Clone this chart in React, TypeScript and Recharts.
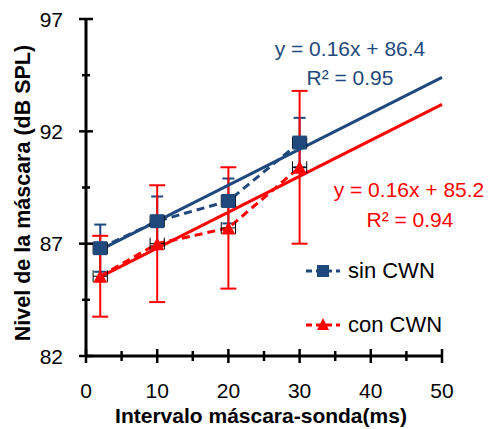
import React from 'react';
import { ComposedChart, Line, Scatter, XAxis, YAxis, ErrorBar, Legend, Label } from 'recharts';

const FONT = '"Liberation Sans", Arial, sans-serif';
const BLUE = '#1F497D';
const RED = '#FF0000';

// masker-probe interval (ms) and horizontal error
const intervals = [2, 10, 20, 30];
const intervalErr = [1, 1, 1, 1];

// masker level (dB SPL)
const sinCWN = [86.8, 88.0, 88.9, 91.5];
const sinErr = [1.05, 1.1, 1.0, 1.1];
const conCWN = [85.55, 87.0, 87.7, 90.4];
const conErr = [1.8, 2.6, 2.7, 3.4];

// linear trend end points
const trendX = [2, 50];
const sinTrend = [86.72, 94.4];
const conTrend = [85.52, 93.2];

const xTicks = [0, 5, 10, 15, 20, 25, 30, 35, 40, 45, 50];
const xLabelTicks = [0, 10, 20, 30, 40, 50];
const yTicks = [82, 84.5, 87, 89.5, 92, 94.5, 97];
const yLabelTicks = [82, 87, 92, 97];

const sinRows = intervals.map((x, i) => ({ x, y: sinCWN[i], err: sinErr[i], xErr: intervalErr[i] }));
const conRows = intervals.map((x, i) => ({ x, y: conCWN[i], err: conErr[i], xErr: intervalErr[i] }));
const sinTrendRows = trendX.map((x, i) => ({ x, y: sinTrend[i] }));
const conTrendRows = trendX.map((x, i) => ({ x, y: conTrend[i] }));

function YTick(props: any) {
  const { x, y, payload } = props;
  const major = yLabelTicks.includes(payload.value);
  const h = major ? 7 : 4;
  return (
    <g>
      <line x1={x - h} x2={x + h} y1={y} y2={y} stroke="#000" strokeWidth={2.5} />
      {major && (
        <text x={x - 23} y={y + 7.5} textAnchor="end" fontSize={21} fill="#000" fontFamily={FONT}>
          {payload.value}
        </text>
      )}
    </g>
  );
}

function XTick(props: any) {
  const { x, y, payload } = props;
  const major = xLabelTicks.includes(payload.value);
  const h = major ? 7 : 5;
  return (
    <g>
      <line x1={x} x2={x} y1={y - h} y2={y + h} stroke="#000" strokeWidth={2.5} />
      {major && (
        <text x={x} y={y + 42} textAnchor="middle" fontSize={21} fill="#000" fontFamily={FONT}>
          {payload.value}
        </text>
      )}
    </g>
  );
}

const Square = (p: any) => <rect x={p.cx - 7} y={p.cy - 7} width={14} height={14} fill={BLUE} />;
const Triangle = (p: any) => (
  <polygon points={`${p.cx},${p.cy - 6.5} ${p.cx + 7},${p.cy + 6.5} ${p.cx - 7},${p.cy + 6.5}`} fill={RED} />
);
const NoShape = () => <g />;

function LegendIcon({ color, marker }: { color: string; marker: 'square' | 'triangle' }) {
  return (
    <svg width={36} height={20} style={{ display: 'block' }}>
      <line x1={1} x2={35} y1={10} y2={10} stroke={color} strokeWidth={3} strokeDasharray="6 4" />
      {marker === 'square' ? (
        <rect x={12} y={4} width={12} height={12} fill={color} />
      ) : (
        <polygon points="18,3 24,15 12,15" fill={color} />
      )}
    </svg>
  );
}

function LegendBox() {
  const items = [
    { label: 'sin CWN', color: BLUE, marker: 'square' as const },
    { label: 'con CWN', color: RED, marker: 'triangle' as const },
  ];
  return (
    <div style={{ fontFamily: FONT, fontSize: 22, color: '#000' }}>
      {items.map((it, i) => (
        <div key={it.label} style={{ display: 'flex', alignItems: 'center', height: 26, marginTop: i ? 28 : 0 }}>
          <LegendIcon color={it.color} marker={it.marker} />
          <span style={{ marginLeft: 7 }}>{it.label}</span>
        </div>
      ))}
    </div>
  );
}

export default function App() {
  return (
    <div style={{ position: 'absolute', left: 0, top: 0, background: '#fff' }}>
      <ComposedChart width={488} height={429} margin={{ top: 19, right: 46, bottom: 0, left: 0 }} style={{ fontFamily: FONT }}>
        <XAxis
          type="number"
          dataKey="x"
          domain={[0, 50]}
          ticks={xTicks}
          interval={0}
          height={73}
          tickSize={0}
          tickMargin={0}
          tickLine={false}
          tick={<XTick />}
          axisLine={{ stroke: '#000', strokeWidth: 3 }}
        >
          <Label
            content={() => (
              <text x={261} y={423} textAnchor="middle" fontSize={21} fontWeight="bold" fill="#000" fontFamily={FONT}>
                Intervalo máscara-sonda(ms)
              </text>
            )}
          />
        </XAxis>
        <YAxis
          type="number"
          dataKey="y"
          domain={[82, 97]}
          ticks={yTicks}
          interval={0}
          width={86}
          tickSize={0}
          tickMargin={0}
          tickLine={false}
          tick={<YTick />}
          axisLine={{ stroke: '#000', strokeWidth: 3 }}
        >
          <Label
            content={() => (
              <text
                x={30}
                y={193}
                transform="rotate(-90, 30, 193)"
                textAnchor="middle"
                fontSize={21.5}
                fontWeight="bold"
                fill="#000"
                fontFamily={FONT}
              >
                Nivel de la máscara (dB SPL)
              </text>
            )}
          />
        </YAxis>

        <Scatter data={sinRows} dataKey="y" shape={NoShape} isAnimationActive={false} legendType="none">
          <ErrorBar dataKey="err" direction="y" stroke={BLUE} strokeWidth={2} width={6} />
        </Scatter>
        <Scatter data={conRows} dataKey="y" shape={NoShape} isAnimationActive={false} legendType="none">
          <ErrorBar dataKey="err" direction="y" stroke={RED} strokeWidth={2} width={8} />
        </Scatter>

        <Line data={sinTrendRows} dataKey="y" stroke={BLUE} strokeWidth={3} dot={false} isAnimationActive={false} legendType="none" />
        <Line data={conTrendRows} dataKey="y" stroke={RED} strokeWidth={3} dot={false} isAnimationActive={false} legendType="none" />
        <Line data={sinRows} dataKey="y" stroke={BLUE} strokeWidth={3} strokeDasharray="8 5" dot={false} isAnimationActive={false} legendType="none" />
        <Line data={conRows} dataKey="y" stroke={RED} strokeWidth={3} strokeDasharray="8 5" dot={false} isAnimationActive={false} legendType="none" />

        <Scatter data={sinRows} dataKey="y" shape={Square} isAnimationActive={false}>
          <ErrorBar dataKey="xErr" direction="x" stroke="#000" strokeWidth={1} width={6} />
        </Scatter>
        <Scatter data={conRows} dataKey="y" shape={Triangle} isAnimationActive={false}>
          <ErrorBar dataKey="xErr" direction="x" stroke="#000" strokeWidth={1} width={6} />
        </Scatter>

        <Legend layout="vertical" align="center" verticalAlign="middle" content={<LegendBox />} wrapperStyle={{ left: 305, top: 258, width: 150 }} />

        <g fontFamily={FONT} fontSize={21} textAnchor="middle">
          <text x={350} y={55.5} fill={BLUE}>y = 0.16x + 86.4</text>
          <text x={350} y={85} fill={BLUE}>R² = 0.95</text>
          <text x={409} y={196.5} fill={RED}>y = 0.16x + 85.2</text>
          <text x={410} y={226.5} fill={RED}>R² = 0.94</text>
        </g>
      </ComposedChart>
    </div>
  );
}
